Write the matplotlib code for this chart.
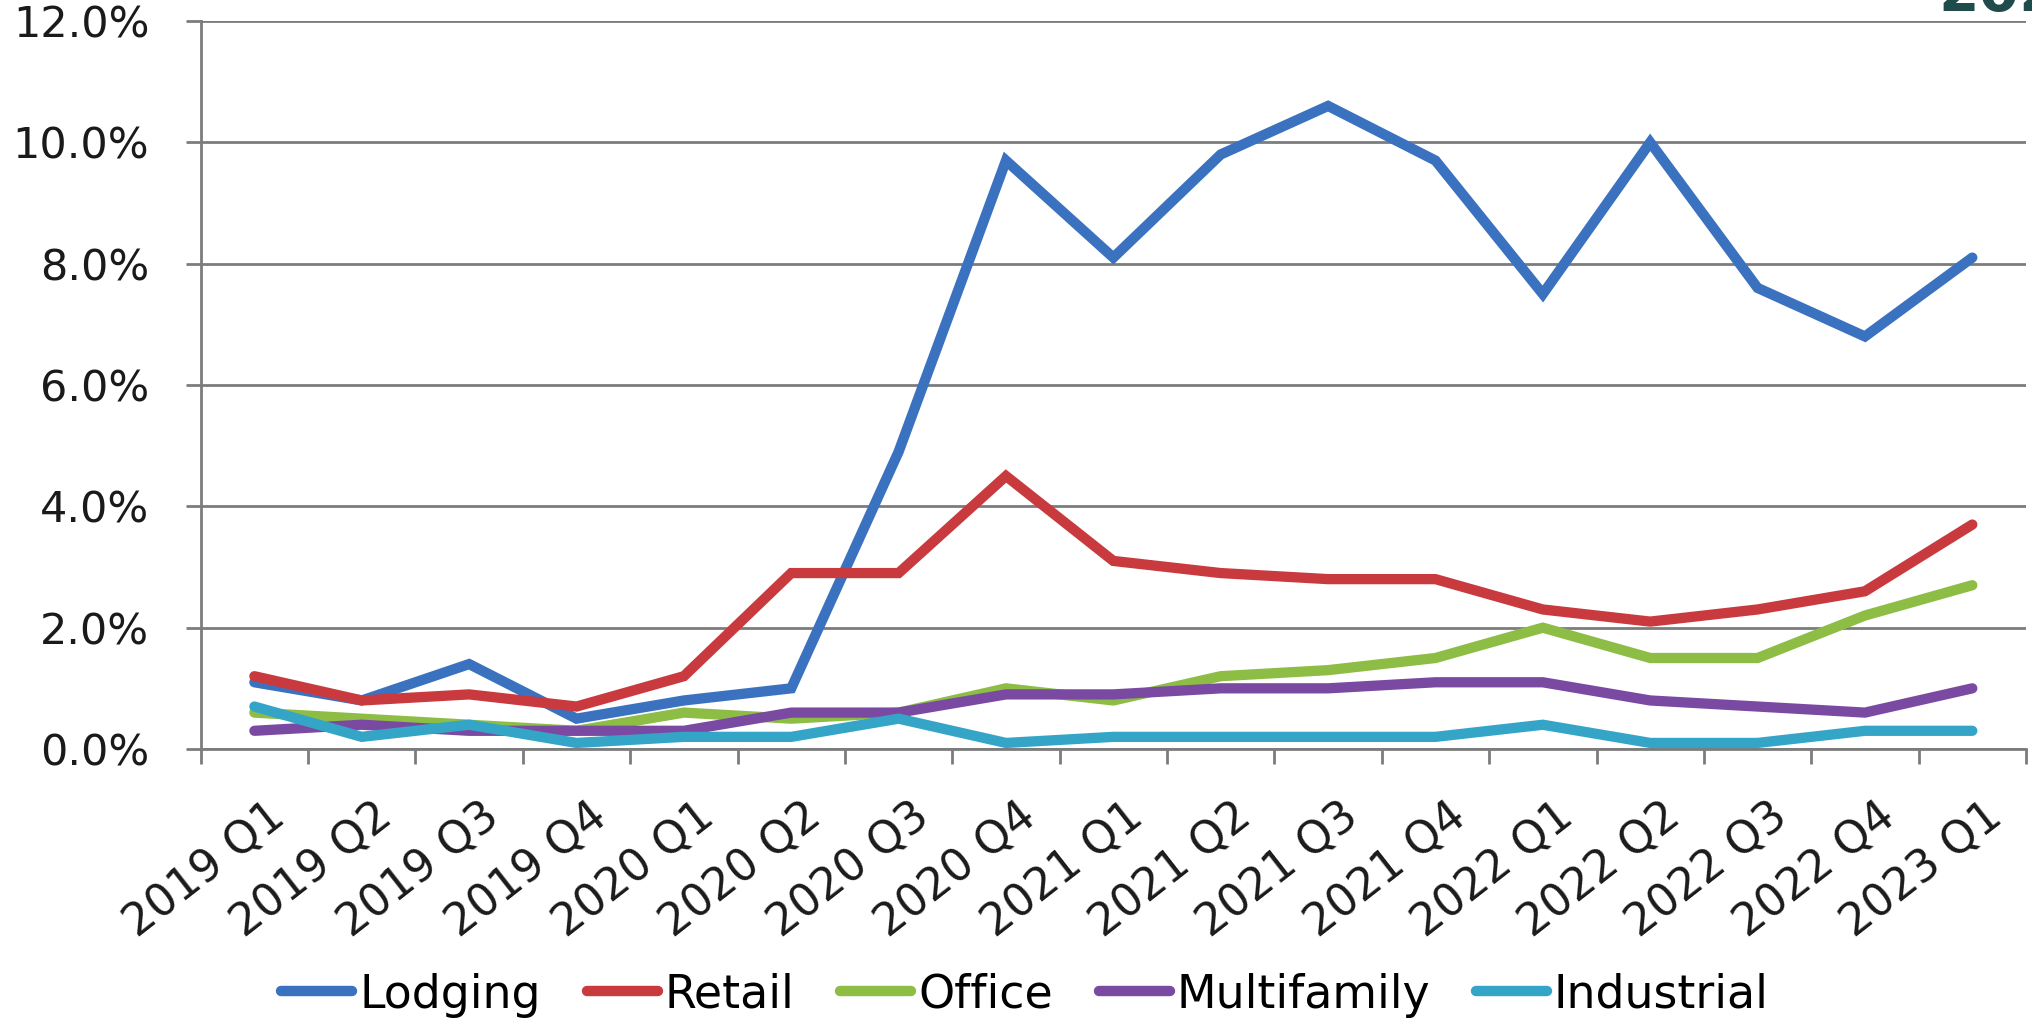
import matplotlib
matplotlib.use("Agg")
import matplotlib.pyplot as plt
import matplotlib.transforms as mtransforms
from matplotlib.ticker import FixedLocator, FuncFormatter

quarters = ["2019 Q1", "2019 Q2", "2019 Q3", "2019 Q4",
            "2020 Q1", "2020 Q2", "2020 Q3", "2020 Q4",
            "2021 Q1", "2021 Q2", "2021 Q3", "2021 Q4",
            "2022 Q1", "2022 Q2", "2022 Q3", "2022 Q4",
            "2023 Q1"]

lodging = [1.1, 0.8, 1.4, 0.5, 0.8, 1.0, 4.9, 9.7, 8.1, 9.8, 10.6, 9.7, 7.5, 10.0, 7.6, 6.8, 8.1]
retail = [1.2, 0.8, 0.9, 0.7, 1.2, 2.9, 2.9, 4.5, 3.1, 2.9, 2.8, 2.8, 2.3, 2.1, 2.3, 2.6, 3.7]
office = [0.6, 0.5, 0.4, 0.3, 0.6, 0.5, 0.6, 1.0, 0.8, 1.2, 1.3, 1.5, 2.0, 1.5, 1.5, 2.2, 2.7]
multifamily = [0.3, 0.4, 0.3, 0.3, 0.3, 0.6, 0.6, 0.9, 0.9, 1.0, 1.0, 1.1, 1.1, 0.8, 0.7, 0.6, 1.0]
industrial = [0.7, 0.2, 0.4, 0.1, 0.2, 0.2, 0.5, 0.1, 0.2, 0.2, 0.2, 0.2, 0.4, 0.1, 0.1, 0.3, 0.3]

series_names = ["Lodging", "Retail", "Office", "Multifamily", "Industrial"]
series_values = [lodging, retail, office, multifamily, industrial]
series_colors = ["#3a72c0", "#c93a3e", "#8dbd45", "#7a4aa2", "#35a5c7"]

y_ticks = [0, 2, 4, 6, 8, 10, 12]

W, H = 2033, 1018
fig = plt.figure(figsize=(W / 100, H / 100), dpi=100)
fig.patch.set_facecolor("white")

ax_left, ax_right = 200.7, 2026
ax_bottom, ax_top = 749, 21
ax = fig.add_axes([ax_left / W, 1 - ax_bottom / H,
                   (ax_right - ax_left) / W, (ax_bottom - ax_top) / H])

grid_color = "#7c7c7c"
x = list(range(len(quarters)))
for name, vals, col in zip(series_names, series_values, series_colors):
    ax.plot(x, vals, color=col, lw=7.4, label=name, solid_capstyle="round",
            solid_joinstyle="miter", zorder=3, clip_on=False)

ax.set_xlim(-0.5, len(quarters) - 0.5)
ax.set_ylim(0, 12)

# y axis
ax.yaxis.set_major_locator(FixedLocator(y_ticks))
ax.yaxis.set_major_formatter(FuncFormatter(lambda v, p: f"{v:.1f}%"))
ax.tick_params(axis="y", direction="out", length=11, width=2.0, color=grid_color,
               labelsize=31, pad=26, labelcolor="#1a1a1a")
ax.grid(axis="y", color=grid_color, lw=2.0, zorder=1)

# x axis: labels at centres, tick marks at boundaries
ax.set_xticks(x)
ax.set_xticklabels(quarters, rotation=38, ha="right", va="top",
                   rotation_mode="anchor", fontsize=32, color="#1a1a1a")
ax.tick_params(axis="x", which="major", length=0, pad=33)
ax.set_xticks([i - 0.5 for i in range(len(quarters) + 1)], minor=True)
ax.tick_params(axis="x", which="minor", direction="out", length=11, width=2.0,
               color=grid_color)
offset = mtransforms.ScaledTranslation(12 / 100, 0, fig.dpi_scale_trans)
for lab in ax.get_xticklabels():
    lab.set_transform(lab.get_transform() + offset)

for s in ["top", "right"]:
    ax.spines[s].set_visible(False)
for s in ["left", "bottom"]:
    ax.spines[s].set_color(grid_color)
    ax.spines[s].set_linewidth(2.0)
ax.set_axisbelow(True)

leg = fig.legend(loc="center", bbox_to_anchor=(1025 / W, 1 - 995 / H), ncol=5,
                 frameon=False, fontsize=33, handlelength=1.55, handletextpad=0.15,
                 columnspacing=1.0, borderaxespad=0, borderpad=0)
for lh in leg.get_lines():
    lh.set_linewidth(7.5)

fig.text(1938 / W, 1 - 11 / H, "2023", fontsize=42, fontweight="bold",
         color="#1f4b4b", ha="left", va="baseline")

fig.savefig("out.png", dpi=100, facecolor="white")
